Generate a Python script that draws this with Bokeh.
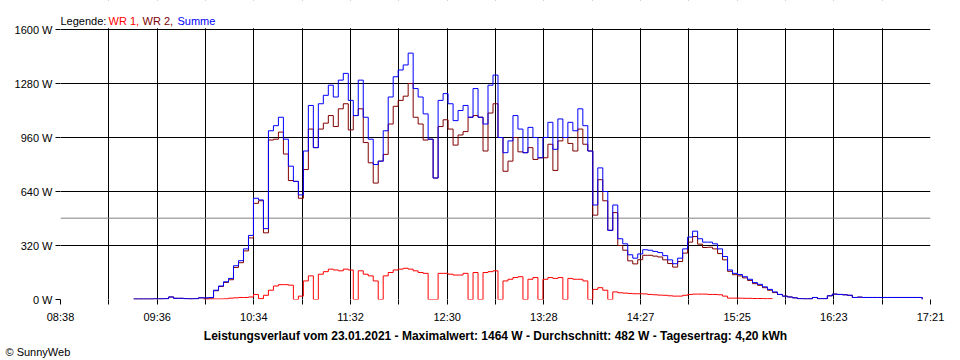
import numpy as np
from bokeh.plotting import figure
from bokeh.models import Range1d, FixedTicker, Span, Title, ColumnDataSource, BoxAnnotation
from bokeh.core.properties import value
from bokeh.embed import file_html
from bokeh.resources import INLINE

# ---- data ----
t_start = 562   # 09:22 in minutes of day
t_step = 3      # sampling interval in minutes

summe = [3, 3, 3, 3, 4, 4, 5, 15, 7, 7, 5, 4, 5, 10, 10, 12,
         55, 80, 105, 125, 200, 230, 300, 380, 600, 590, 420, 1000, 1030, 1080, 950, 790,
         700, 620, 880, 1150, 900, 1160, 1210, 1270, 1200, 1300, 1340, 1180, 1090, 1300, 1080, 950,
         800, 820, 1000, 1200, 1320, 1360, 1390, 1460, 1250, 1200, 1100, 950, 720, 1180, 1220, 1160,
         1060, 1120, 1150, 1080, 1250, 1080, 1040, 1270, 1330, 960, 870, 940, 1090, 1010, 870, 1020,
         960, 840, 960, 1050, 890, 1070, 960, 1050, 1000, 1130, 1030, 880, 560, 780, 640, 410,
         560, 360, 330, 265, 245, 270, 295, 292, 285, 278, 260, 235, 212, 245, 300, 370,
         405, 360, 340, 340, 330, 300, 255, 175, 155, 148, 135, 120, 100, 90, 75, 60,
         45, 30, 20, 15, 10, 5, 4, 4, 12, 5, 5, 22, 32, 30, 28, 25,
         12, 14, 12, 12, 12, 12, 12, 12, 12, 12, 12, 12, 12, 12, 0]

wr1 = [None] * 14 + [2, 3,
       3, 3, 4, 8, 10, 12, 12, 15, 30, 5, 25, 55, 80, 88, 88, 85,
       0, 20, 110, 140, 0, 150, 165, 180, 175, 170, 180, 175, 0, 170, 150, 140,
       110, 0, 140, 160, 175, 180, 185, 180, 170, 160, 155, 0, 0, 155, 155, 150,
       145, 145, 155, 0, 160, 0, 160, 165, 170, 0, 110, 120, 130, 135, 0, 120,
       130, 0, 120, 130, 125, 130, 0, 125, 120, 120, 110, 0, 60, 70, 55, 0,
       45, 40, 38, 36, 34, 34, 33, 30, 28, 26, 25, 22, 20, 20, 25, 30,
       32, 32, 32, 30, 30, 28, 20, 8, 8, 8, 7, 7, 6, 6, 5, 5,
       4] + [None] * 30

wr2 = [3, 3, 3, 3, 4, 4, 5, 15, 7, 7, 5, 4, 5, 10, 8, 9,
       52, 77, 101, 117, 190, 218, 288, 365, 570, 585, 395, 945, 950, 992, 862, 705,
       700, 600, 770, 1010, 900, 1010, 1045, 1090, 1025, 1130, 1160, 1005, 1090, 1130, 930, 810,
       690, 820, 860, 1040, 1145, 1180, 1205, 1280, 1080, 1040, 945, 950, 720, 1025, 1065, 1010,
       915, 975, 995, 1080, 1090, 1080, 880, 1105, 1160, 960, 760, 820, 960, 875, 870, 900,
       830, 840, 840, 920, 765, 940, 960, 925, 880, 1010, 920, 880, 500, 710, 585, 410,
       515, 320, 292, 229, 211, 236, 262, 262, 257, 252, 235, 213, 192, 225, 275, 340,
       373, 328, 308, 310, 300, 272, 235, 167, 147, 140, 128, 113, 94, 84, 70, 55,
       41, 30, 20, 15, 10, 5, 4, 4, 12, 5, 5, 22, 32, 30, 28, 25,
       12, 14, 12, 12, 12, 12, 12, 12, 12, 12, 12, 12, 12, 12, 0]

average_w = 482
x_start, x_end = 518, 1041          # 08:38 .. 17:21 in minutes
y_max = 1600
n_intervals = 18
time_labels = ["08:38", "09:36", "10:34", "11:32", "12:30",
               "13:28", "14:27", "15:25", "16:23", "17:21"]
y_ticks = [0, 320, 640, 960, 1280, 1600]

legend_parts = ["Legende:", "WR 1,", "WR 2,", "Summe"]
legend_colors = ["black", "#FF0000", "#800000", "#0000FF"]
title_text = ("Leistungsverlauf vom 23.01.2021 - Maximalwert: 1464 W - "
              "Durchschnitt: 482 W - Tagesertrag: 4,20 kWh")
credit_text = "© SunnyWeb"

FONT = "Liberation Sans"

# frame: x 60..930 px, y 0..299 px; the 0..1600 W area spans y 29..299
W_PER_PX = y_max / 270.0
MIN_PER_PX = (x_end - x_start) / 870.0
top_w = y_max + 29 * W_PER_PX

p = figure(width=960, height=360,
           x_range=Range1d(x_start, x_end), y_range=Range1d(0, top_w),
           output_backend="svg", toolbar_location=None,
           min_border_left=60, min_border_right=30,
           min_border_top=0, min_border_bottom=61)
p.background_fill_color = "white"
p.border_fill_color = "white"
p.outline_line_color = None

x_ticks = [x_start + k * (x_end - x_start) / n_intervals for k in range(n_intervals + 1)]
overrides = {}
for k, t in enumerate(x_ticks):
    overrides[t] = time_labels[k // 2] if k % 2 == 0 else ""

p.xaxis.ticker = FixedTicker(ticks=x_ticks, minor_ticks=[])
p.xaxis.major_label_overrides = overrides
p.yaxis.ticker = FixedTicker(ticks=y_ticks, minor_ticks=[])
p.yaxis.major_label_overrides = {v: f"{v} W" for v in y_ticks}

for ax in (p.xaxis[0], p.yaxis[0]):
    ax.axis_line_color = None
    ax.major_tick_line_color = "black"
    ax.major_tick_in = 0
    ax.major_tick_out = 5
    ax.minor_tick_line_color = None
    ax.major_label_text_font = FONT
    ax.major_label_text_font_size = "11px"
    ax.major_label_text_color = "black"
p.xaxis.major_label_standoff = 6
p.yaxis.major_label_standoff = 3

for g in (p.xgrid[0], p.ygrid[0]):
    g.grid_line_color = "black"
    g.grid_line_alpha = 1
    g.grid_line_width = 1

# blank out the vertical grid lines above the 1600 W line (legend strip)
p.add_layout(BoxAnnotation(bottom=y_max + 1.2 * W_PER_PX, fill_color="white", fill_alpha=1,
                           line_color=None, level="underlay"))

p.add_layout(Span(location=average_w, dimension="width",
                  line_color="#808080", line_width=1, level="underlay"))

p.step(minutes := [t_start + t_step * i for i in range(len(summe))],
       np.array(wr1, dtype=float), mode="after", line_color="#FF0000", line_width=1)
p.step(minutes, np.array(wr2, dtype=float), mode="after", line_color="#800000", line_width=1)
p.step(minutes, np.array(summe, dtype=float), mode="after", line_color="#0000FF", line_width=1)

# legend strip text (positions in px converted to the chart's data space)
leg_px = [0, 48, 82, 117]
leg_src = ColumnDataSource(dict(x=[x_start + d * MIN_PER_PX for d in leg_px],
                                y=[y_max + 9 * W_PER_PX] * 4,
                                text=legend_parts, color=legend_colors))
p.text(x="x", y="y", text="text", text_color="color", source=leg_src,
       text_font=value(FONT), text_font_size=value("11px"),
       text_baseline="alphabetic", text_align="left")

p.add_layout(Title(text=title_text, align="center", text_font=FONT,
                   text_font_size="12px", text_font_style="bold",
                   text_color="black", standoff=2, offset=0), "below")
p.add_layout(Title(text=credit_text, align="left", text_font=FONT,
                   text_font_size="11px", text_font_style="normal",
                   text_color="black", standoff=0, offset=-55), "below")

open("out.html", "w").write(file_html(p, INLINE))
